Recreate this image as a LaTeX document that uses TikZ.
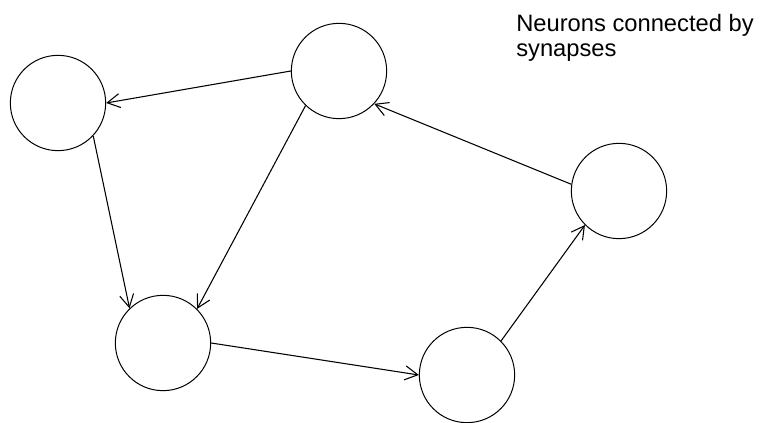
\documentclass[tikz,border=0pt]{standalone}
\usepackage{fontspec}
\setmainfont{Liberation Sans}
\usetikzlibrary{arrows.meta}

\begin{document}
\begin{tikzpicture}[x=0.75pt, y=-0.75pt,
    neuron/.style={draw, circle, line width=0.75pt, inner sep=0pt, minimum size=71.5pt},
    synapse/.style={line width=0.8pt, -{Straight Barb[length=9.5pt, width=10.5pt, line width=0.8pt]}}]
    \useasboundingbox (0,0) rectangle (761,423);

    \node[neuron] (left)   at (58,103)  {};
    \node[neuron] (top)    at (339,71)  {};
    \node[neuron] (right)  at (619,191) {};
    \node[neuron] (bottom) at (163,343) {};
    \node[neuron] (low)    at (467,375) {};

    \node[anchor=north west, align=left, font=\fontsize{17.8pt}{18.5pt}\selectfont, inner sep=0pt]
        (caption) at (516,14) {Neurons connected by\\synapses};

    \draw[synapse] (top.west) -- (left.east);
    \draw[synapse] (top.226) -- (bottom.45);
    \draw[synapse] (left.317) -- (bottom.134);
    \draw[synapse] (bottom.east) -- (low.west);
    \draw[synapse] (low.45) -- (right.225);
    \draw[synapse] (right.172) -- (top.317);
\end{tikzpicture}
\end{document}
